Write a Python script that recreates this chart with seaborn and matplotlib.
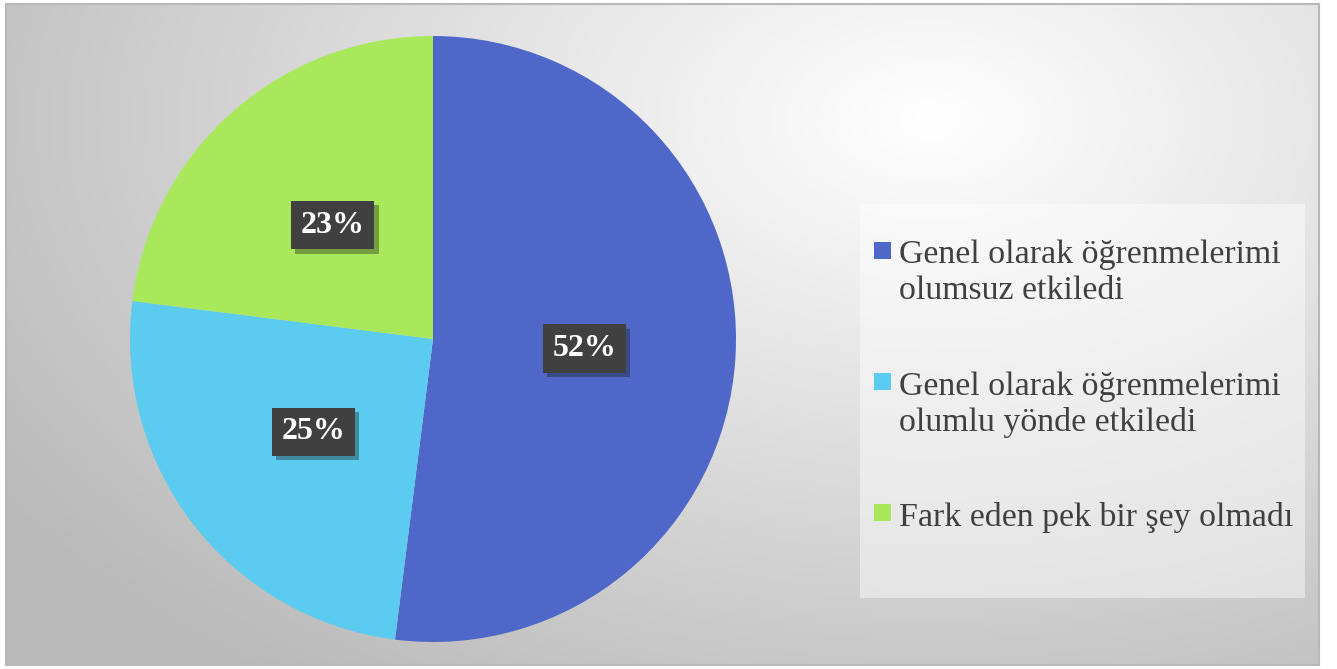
import numpy as np
import seaborn as sns
import matplotlib.pyplot as plt
from matplotlib.patches import Rectangle
import matplotlib.patheffects as pe

labels = ["Genel olarak öğrenmelerimi\nolumsuz etkiledi",
          "Genel olarak öğrenmelerimi\nolumlu yönde etkiledi",
          "Fark eden pek bir şey olmadı"]
values = [52, 25, 23]
colors = ["#4F67C8", "#5BCBF0", "#A8E85A"]

sns.set_style("white")
plt.rcParams['font.family'] = ['Liberation Serif', 'DejaVu Serif']

W, H = 1337, 669
fig = plt.figure(figsize=(W / 100, H / 100), dpi=100)
fig.patch.set_facecolor("white")

# gradient background of chart area
bg = fig.add_axes([6 / W, 4 / H, 1313 / W, 661 / H])
xx, yy = np.meshgrid(np.linspace(6, 1319, 400), np.linspace(5, 665, 200))
d = np.sqrt(((xx - 930) / 1.6) ** 2 + (yy - 120) ** 2)
g = np.clip(255 - 0.1 * d, 185, 255) / 255
bg.imshow(np.dstack([g, g, g]), aspect="auto", extent=[0, 1, 0, 1], origin="upper")
bg.set_xticks([])
bg.set_yticks([])
for s in bg.spines.values():
    s.set_color("#B8B8B8")
    s.set_linewidth(1.5)

# pie
cx, cy, r = 433, H - 339, 303
ax = fig.add_axes([(cx - r) / W, (cy - r) / H, 2 * r / W, 2 * r / H])
ax.set_facecolor("none")
wedges, texts, autotexts = ax.pie(values, colors=colors, startangle=90, counterclock=False,
                                  autopct="%1.0f%%", pctdistance=0.5,
                                  wedgeprops=dict(edgecolor="none", linewidth=0),
                                  textprops=dict(color="white", fontsize=23, fontweight="bold"))
for t in autotexts:
    t.set_bbox(dict(boxstyle="square,pad=0.3", facecolor="#404040", edgecolor="none"))
    t.get_bbox_patch().set_path_effects([pe.SimplePatchShadow(offset=(3, -3), alpha=0.35),
                                         pe.Normal()])
ax.set_xlim(-1, 1)
ax.set_ylim(-1, 1)
ax.axis("off")

# legend box
fig.patches.append(Rectangle((860 / W, 1 - 598 / H), 445 / W, 394 / H,
                             transform=fig.transFigure, facecolor="white",
                             alpha=0.45, edgecolor="none"))
text_tops = [239, 371, 502]
square_tops = [242, 373, 504]
for lab, c, top, sq in zip(labels, colors, text_tops, square_tops):
    fig.patches.append(Rectangle((874 / W, 1 - (sq + 17) / H), 17 / W, 17 / H,
                                 transform=fig.transFigure, facecolor=c, edgecolor="none"))
    fig.text(899 / W, 1 - top / H, lab, fontsize=24.4, color="#404040",
             va="top", ha="left", linespacing=1.24)

fig.savefig("out.png", dpi=100)
